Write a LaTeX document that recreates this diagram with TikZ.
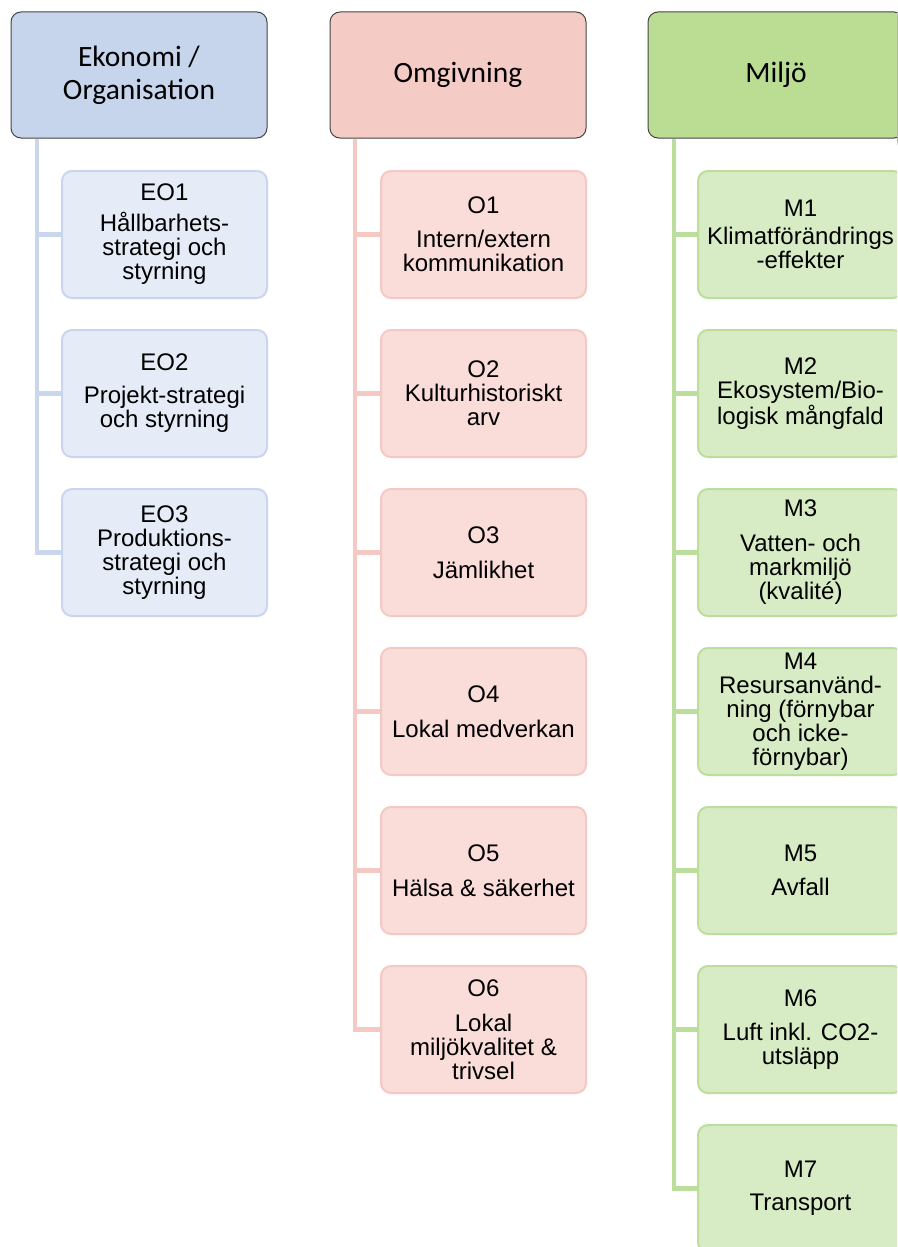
\documentclass[tikz,border=0pt]{standalone}
\usepackage{fontspec}
\setmainfont{Liberation Sans}
\newfontfamily\hdrfamily{Carlito}
\usetikzlibrary{backgrounds}

% column palettes
\definecolor{eohead}{HTML}{C6D4EC}
\definecolor{eokid}{HTML}{E6ECF7}
\definecolor{eorim}{HTML}{C9D6EE}
\definecolor{ohead}{HTML}{F5CBC5}
\definecolor{okid}{HTML}{FADCD9}
\definecolor{orim}{HTML}{F5C9C3}
\definecolor{mhead}{HTML}{BADD93}
\definecolor{mkid}{HTML}{D7ECC4}
\definecolor{mrim}{HTML}{BCDE9C}
\definecolor{headrim}{HTML}{454545}

\begin{document}
\begin{tikzpicture}[x=1pt,y=-1pt,
  headbox/.style={draw=headrim, line width=1pt, fill=#1head, rounded corners=10pt,
    minimum width=256pt, minimum height=126pt, inner sep=0pt, align=center,
    font=\hdrfamily\fontsize{29.5}{33}\selectfont},
  kid/.style={draw=#1rim, fill=#1kid, line width=2pt, rounded corners=10pt,
    minimum width=205pt, minimum height=127pt, inner sep=0pt, align=center,
    font=\fontsize{24}{24}\selectfont},
  link/.style={draw=#1rim, line width=4.5pt},
]
\useasboundingbox (0,0) rectangle (897,1247);
\fill[white] (0,0) rectangle (897,1247);
\clip (0,0) rectangle (897,1247);

% category headers
\node[headbox=eo] (hEO) at (139,75) {Ekonomi /\\Organisation};
\node[headbox=o]  (hO)  at (458,75) {Omgivning};
\node[headbox=m]  (hM)  at (776,75) {Miljö};

% soft shadows under the headers
\begin{scope}[on background layer]
  \foreach \n in {hEO,hO,hM}{
    \foreach \i in {0,1,2,3,4}{
      \fill[black, opacity=0.07, rounded corners=12pt]
        ([xshift=1pt-\i pt, yshift=-3pt+\i pt]\n.north west) rectangle
        ([xshift=1pt+\i pt, yshift=-3pt-\i pt]\n.south east);
    }
  }
\end{scope}

% Ekonomi / Organisation
\node[kid=eo] (eo1) at (164.5,234.5) {EO1\\[7pt]Hållbarhets-\\strategi och\\styrning};
\node[kid=eo] (eo2) at (164.5,393.5) {EO2\\[9pt]Projekt-strategi\\och styrning};
\node[kid=eo] (eo3) at (164.5,552.5) {EO3\\Produktions-\\strategi och\\styrning};

% Omgivning
\node[kid=o] (o1) at (483.5,234.5) {O1\\[10pt]Intern/extern\\kommunikation};
\node[kid=o] (o2) at (483.5,393.5) {O2\\Kulturhistoriskt\\arv};
\node[kid=o] (o3) at (483.5,552.5) {O3\\[11pt]Jämlikhet};
\node[kid=o] (o4) at (483.5,711.5) {O4\\[11pt]Lokal medverkan};
\node[kid=o] (o5) at (483.5,870.5) {O5\\[11pt]Hälsa \& säkerhet};
\node[kid=o] (o6) at (483.5,1029.5) {O6\\[11pt]Lokal\\miljökvalitet \&\\trivsel};

% Miljö
\node[kid=m] (m1) at (800.5,234.5) {M1\\[4pt]Klimatförändrings\\-effekter};
\node[kid=m] (m2) at (800.5,393.5) {M2\\Ekosystem/Bio-\\logisk mångfald};
\node[kid=m] (m3) at (800.5,552.5) {M3\\[11pt]Vatten- och\\markmiljö\\(kvalité)};
\node[kid=m] (m4) at (800.5,711.5) {M4\\Resursanvänd-\\ning (förnybar\\och icke-\\förnybar)};
\node[kid=m] (m5) at (800.5,870.5) {M5\\[10pt]Avfall};
\node[kid=m] (m6) at (800.5,1029.5) {M6\\[10pt]Luft inkl. CO2-\\utsläpp};
\node[kid=m] (m7) at (800.5,1188.5) {M7\\[9pt]Transport};

% tree connectors
\foreach \c in {eo1,eo2,eo3}
  \draw[link=eo] ([xshift=26.5pt]hEO.south west) |- (\c.west);
\foreach \c in {o1,o2,o3,o4,o5,o6}
  \draw[link=o] ([xshift=25.5pt]hO.south west) |- (\c.west);
\foreach \c in {m1,m2,m3,m4,m5,m6,m7}
  \draw[link=m] ([xshift=26.5pt]hM.south west) |- (\c.west);
\end{tikzpicture}
\end{document}
